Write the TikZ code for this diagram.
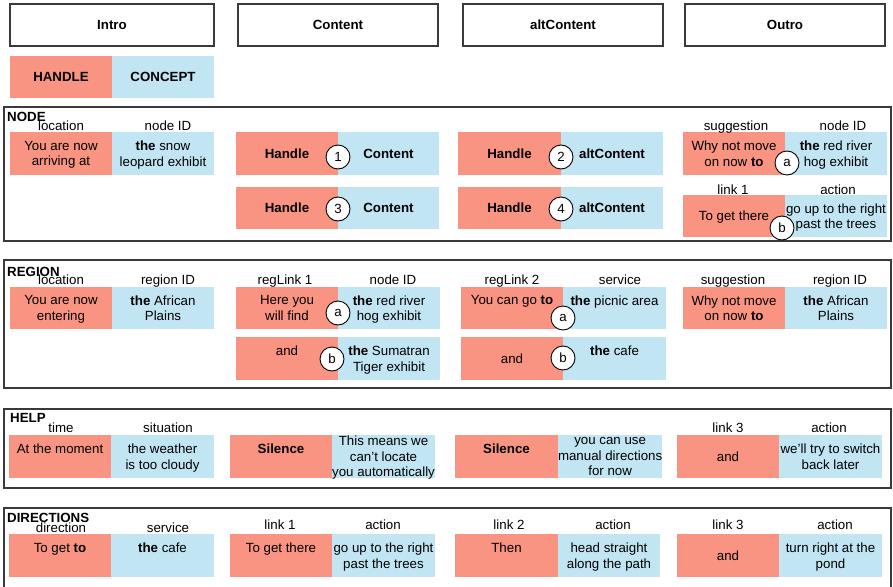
\documentclass[tikz,border=0pt]{standalone}
\usepackage{fontspec}
\setmainfont{Liberation Sans}
\definecolor{hred}{HTML}{FA9482}
\definecolor{cblue}{HTML}{C2E5F3}
\definecolor{framec}{HTML}{3A3A3A}
\newcommand\apos{{\char"27}}
\tikzset{
  every node/.style={font=\fontsize{13.3}{15.5}\selectfont},
  half/.style={inner sep=0pt, outer sep=0pt, align=center, text depth=0pt, anchor=north west},
  hbox/.style={half, fill=hred},
  cbox/.style={half, fill=cblue},
  headbox/.style={draw=framec, line width=1.2pt, inner sep=0pt, outer sep=0pt, anchor=north west, font=\fontsize{13.3}{15.5}\selectfont\bfseries},
  secbox/.style={draw=framec, line width=1.2pt, inner sep=0pt, outer sep=0pt, anchor=north west},
  seclbl/.style={anchor=base west, inner sep=0pt, font=\fontsize{13.3}{15.5}\selectfont\bfseries},
  lbl/.style={anchor=base, inner sep=0pt},
  num/.style={circle, draw=black, fill=white, line width=0.9pt, minimum size=24pt, inner sep=0pt},
}
\newcommand\hpair[8]{%
  \node[hbox, minimum width={#3-#2}, minimum height={#6-#5}] (#1h) at (#2,#5) {#7};
  \node[cbox, minimum width={#4-#3}, minimum height={#6-#5}] (#1c) at (#3,#5) {#8};
}
\begin{document}
\begin{tikzpicture}[x=1pt, y=-1pt]
\useasboundingbox (0,0) rectangle (893,586);
\clip (0,0) rectangle (893,586);
% headers
\node[headbox, minimum width=204, minimum height=42] (hdIntro) at (10,4) {Intro};
\node[headbox, minimum width=200, minimum height=42] (hdContent) at (238,4) {Content};
\node[headbox, minimum width=200, minimum height=42] (hdAlt) at (463,4) {altContent};
\node[headbox, minimum width=200, minimum height=42] (hdOutro) at (685,4) {Outro};
\hpair{key}{10}{112}{214}{56}{98}{\textbf{HANDLE}}{\textbf{CONCEPT}}
% section frames
\node[secbox, minimum width=887, minimum height=134] (sNode) at (4,107) {};
\node[secbox, minimum width=887, minimum height=128] (sRegion) at (4,260) {};
\node[secbox, minimum width=887, minimum height=79] (sHelp) at (4,409) {};
\node[secbox, minimum width=887, minimum height=100] (sDir) at (4,508) {};
\node[seclbl] (tNode) at (7,121) {NODE};
\node[seclbl] (tRegion) at (7,276) {REGION};
\node[seclbl] (tHelp) at (10,422) {HELP};
\node[seclbl] (tDir) at (7,522) {DIRECTIONS};
% NODE
\hpair{nI}{10}{112}{214}{132}{175}{You are now\\arriving at}{\textbf{the} snow\\leopard exhibit}
\hpair{nCa}{236}{338}{439}{132}{175}{\textbf{Handle}}{\textbf{Content}}
\hpair{nCb}{236}{338}{439}{187}{229}{\textbf{Handle}}{\textbf{Content}}
\hpair{nAa}{458}{561}{663}{132}{175}{\textbf{Handle}}{\textbf{altContent}}
\hpair{nAb}{458}{561}{663}{187}{229}{\textbf{Handle}}{\textbf{altContent}}
\hpair{nOa}{683}{785}{887}{132}{175}{Why not move\\on now \textbf{to}}{\textbf{the} red river\\hog exhibit}
\hpair{nOb}{683}{785}{887}{195}{237}{To get there}{go up to the right\\past the trees}
\node[lbl] (lnI1) at (61,130) {location};
\node[lbl] (lnI2) at (168,130) {node ID};
\node[lbl] (lnO1) at (736,130) {suggestion};
\node[lbl] (lnO2) at (843,130) {node ID};
\node[lbl] (lnO3) at (733,194) {link 1};
\node[lbl] (lnO4) at (838,194) {action};
\node[num] (cn1) at (338,157) {1};
\node[num] (cn3) at (338,209) {3};
\node[num] (cn2) at (561,157) {2};
\node[num] (cn4) at (561,209) {4};
\node[num] (cna) at (787,163) {a};
\node[num] (cnb) at (782,228) {b};
% REGION
\hpair{rI}{10}{112}{214}{287}{329}{You are now\\entering}{\textbf{the} African\\Plains}
\hpair{rCa}{236}{338}{440}{287}{329}{Here you\\will find}{\textbf{the} red river\\hog exhibit}
\hpair{rCb}{236}{338}{440}{337}{380}{and\\\mbox{}}{\textbf{the} Sumatran\\Tiger exhibit}
\hpair{rAa}{461}{563}{666}{287}{329}{You can go \textbf{to}\\\mbox{}}{\textbf{the} picnic area\\\mbox{}}
\hpair{rAb}{461}{563}{666}{337}{380}{and}{\textbf{the} cafe\\\mbox{}}
\hpair{rO}{683}{785}{887}{287}{329}{Why not move\\on now \textbf{to}}{\textbf{the} African\\Plains}
\node[lbl] (lr1) at (61,284) {location};
\node[lbl] (lr2) at (168,284) {region ID};
\node[lbl] (lr3) at (285,284) {regLink 1};
\node[lbl] (lr4) at (393,284) {node ID};
\node[lbl] (lr5) at (512,284) {regLink 2};
\node[lbl] (lr6) at (620,284) {service};
\node[lbl] (lr7) at (733,284) {suggestion};
\node[lbl] (lr8) at (840,284) {region ID};
\node[num] (cra) at (338,313) {a};
\node[num] (crb) at (332,359) {b};
\node[num] (cra2) at (563,318) {a};
\node[num] (crb2) at (563,358) {b};
% HELP
\hpair{hI}{9}{111}{214}{435}{478}{At the moment\\\mbox{}}{the weather\\is too cloudy}
\hpair{hC}{230}{332}{435}{435}{478}{\textbf{Silence}\\\mbox{}}{This means we\\can\apos t locate\\you automatically}
\hpair{hA}{455}{558}{660}{435}{478}{\textbf{Silence}\\\mbox{}}{you can use\\manual directions\\for now}
\hpair{hO}{677}{779}{882}{435}{478}{and}{we\apos ll try to switch\\back later}
\node[lbl] (lh1) at (61,432) {time};
\node[lbl] (lh2) at (168,432) {situation};
\node[lbl] (lh3) at (728,432) {link 3};
\node[lbl] (lh4) at (829,432) {action};
% DIRECTIONS
\hpair{dI}{9}{111}{214}{534}{577}{To get \textbf{to}\\\mbox{}}{\textbf{the} cafe\\\mbox{}}
\hpair{dC}{230}{332}{435}{534}{577}{To get there\\\mbox{}}{go up to the right\\past the trees}
\hpair{dA}{455}{558}{660}{534}{577}{Then\\\mbox{}}{head straight\\along the path}
\hpair{dO}{677}{779}{882}{534}{577}{and}{turn right at the\\pond}
\node[lbl] (ld1) at (61,532) {direction};
\node[lbl] (ld2) at (168,532) {service};
\node[lbl] (ld3) at (280,529) {link 1};
\node[lbl] (ld4) at (383,529) {action};
\node[lbl] (ld5) at (509,529) {link 2};
\node[lbl] (ld6) at (613,529) {action};
\node[lbl] (ld7) at (728,529) {link 3};
\node[lbl] (ld8) at (835,529) {action};
\end{tikzpicture}
\end{document}
